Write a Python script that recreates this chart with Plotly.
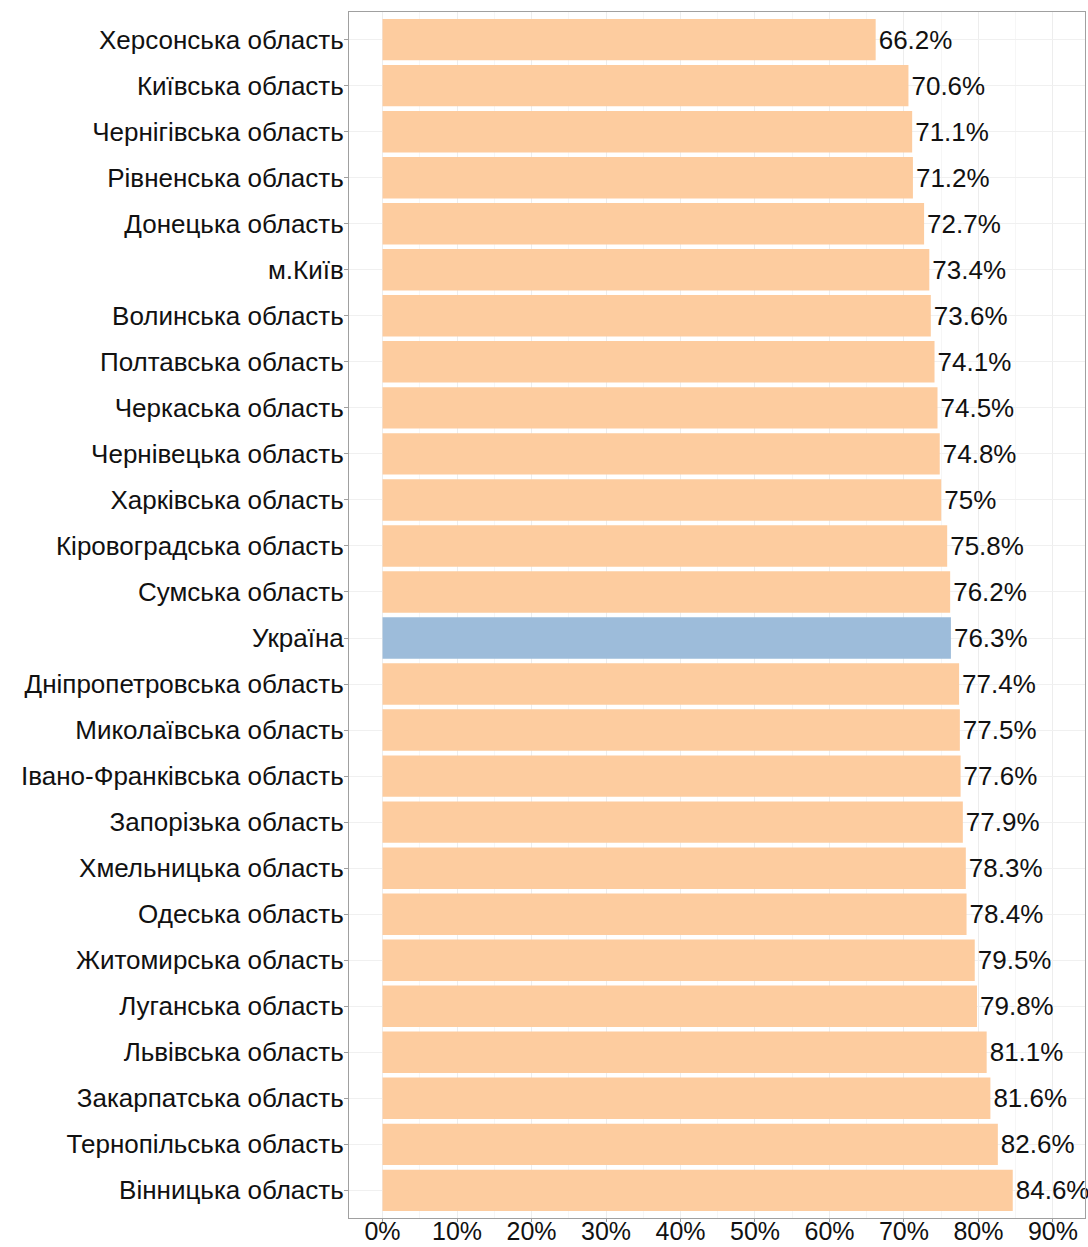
import plotly.graph_objects as go

regions = [
    "Херсонська область", "Київська область", "Чернігівська область", "Рівненська область",
    "Донецька область", "м.Київ", "Волинська область", "Полтавська область",
    "Черкаська область", "Чернівецька область", "Харківська область", "Кіровоградська область",
    "Сумська область", "Україна", "Дніпропетровська область", "Миколаївська область",
    "Івано-Франківська область", "Запорізька область", "Хмельницька область", "Одеська область",
    "Житомирська область", "Луганська область", "Львівська область", "Закарпатська область",
    "Тернопільська область", "Вінницька область",
]
values = [66.2, 70.6, 71.1, 71.2, 72.7, 73.4, 73.6, 74.1, 74.5, 74.8, 75.0, 75.8, 76.2, 76.3,
          77.4, 77.5, 77.6, 77.9, 78.3, 78.4, 79.5, 79.8, 81.1, 81.6, 82.6, 84.6]
tick_vals = [0, 10, 20, 30, 40, 50, 60, 70, 80, 90]
tick_text = ["0%", "10%", "20%", "30%", "40%", "50%", "60%", "70%", "80%", "90%"]

PEACH = "#FDCC9F"
BLUE = "#9DBCDA"
colors = [BLUE if r == "Україна" else PEACH for r in regions]
labels = [f"{v:g}%" for v in values]

FONT = "Liberation Sans, Arial, sans-serif"

fig = go.Figure(go.Bar(
    x=values, y=regions, orientation="h",
    marker=dict(color=colors, line=dict(width=0)),
    text=labels, textposition="outside", cliponaxis=False, constraintext="none",
    textfont=dict(size=26, color="#111111", family=FONT),
    hoverinfo="skip",
))

fig.update_layout(
    width=1088, height=1247,
    margin=dict(l=349, r=3, t=12, b=29),
    paper_bgcolor="white", plot_bgcolor="white",
    bargap=0.1, showlegend=False,
    font=dict(family=FONT, size=26, color="#111111"),
)
fig.update_xaxes(
    range=[-4.5, 94.3], tickvals=tick_vals, ticktext=tick_text,
    showgrid=True, gridcolor="#EDEDED", gridwidth=1,
    minor=dict(dtick=5, tick0=5, showgrid=True, gridcolor="#F6F6F6", gridwidth=1, ticks=""),
    showline=True, linecolor="#A0A0A0", linewidth=1, mirror=True,
    ticks="outside", ticklen=3, tickcolor="#A0A0A0",
    zeroline=False, tickfont=dict(size=25), automargin=False,
    ticklabelstandoff=-12,
)
fig.update_yaxes(
    categoryorder="array", categoryarray=regions, range=[len(regions) - 0.4, -0.6],
    showgrid=True, gridcolor="#F0F0F0", gridwidth=1,
    showline=True, linecolor="#A0A0A0", linewidth=1, mirror=True,
    ticks="outside", ticklen=4, tickcolor="#A0A0A0",
    tickfont=dict(size=26), automargin=False,
    ticklabelstandoff=-5,
)

fig.write_html(
    "out.html",
    config={"displayModeBar": False, "staticPlot": True},
    post_script="document.body.style.margin='0';document.body.style.overflow='hidden';",
)
